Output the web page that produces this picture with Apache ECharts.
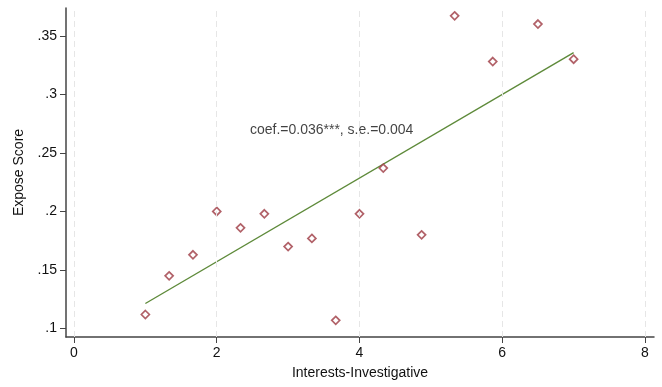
<!DOCTYPE html>
<html>
<head>
<meta charset="utf-8">
<script src="https://cdn.jsdelivr.net/npm/echarts@6/dist/echarts.min.js"></script>
<style>
html,body{margin:0;padding:0;background:#fff;}
#c{width:662px;height:387px;}
</style>
</head>
<body>
<div id="c"></div>
<script>
// Scatter data (Interests-Investigative vs Expose Score)
const xValues = [1.0, 1.333, 1.667, 2.0, 2.333, 2.667, 3.0, 3.333, 3.667, 4.0, 4.333, 4.87, 5.333, 5.867, 6.5, 7.0];
const yValues = [0.112, 0.145, 0.163, 0.200, 0.186, 0.198, 0.170, 0.177, 0.107, 0.198, 0.237, 0.180, 0.367, 0.328, 0.360, 0.330];
// Fitted line endpoints
const fitX = [1.0, 7.0];
const fitY = [0.1214, 0.3356];
// Tick labels
const xTicks = [0, 2, 4, 6, 8];
const yTicks = [0.1, 0.15, 0.2, 0.25, 0.3, 0.35];
const annotation = 'coef.=0.036***, s.e.=0.004';
const annotationPos = [2.465, 0.2695];

const font = 'Liberation Sans, Arial, sans-serif';
const chart = echarts.init(document.getElementById('c'), null, {renderer: 'canvas'});

const scatterData = xValues.map((x, i) => [x, yValues[i]]);
const fitData = fitX.map((x, i) => [x, fitY[i]]);

chart.setOption({
  animation: false,
  backgroundColor: '#ffffff',
  grid: {left: 66, right: 8, top: 8, bottom: 50, containLabel: false},
  xAxis: {
    type: 'value',
    min: -0.112,
    max: 8.126,
    name: 'Interests-Investigative',
    nameLocation: 'middle',
    nameGap: 29,
    nameTextStyle: {fontFamily: font, fontSize: 14, color: '#111'},
    axisLine: {show: true, onZero: false, lineStyle: {color: '#444', width: 1.5}},
    axisTick: {show: true, length: 6, customValues: xTicks, lineStyle: {color: '#444', width: 1}},
    axisLabel: {show: true, customValues: xTicks, margin: 9, fontFamily: font, fontSize: 14, color: '#111',
      formatter: v => String(v)},
    splitLine: {show: false}
  },
  yAxis: {
    type: 'value',
    min: 0.0928,
    max: 0.3737,
    name: 'Expose Score',
    nameLocation: 'middle',
    nameGap: 38,
    nameTextStyle: {fontFamily: font, fontSize: 14, color: '#111'},
    axisLine: {show: true, onZero: false, lineStyle: {color: '#444', width: 1.5}},
    axisTick: {show: true, length: 6, customValues: yTicks, lineStyle: {color: '#444', width: 1}},
    axisLabel: {show: true, customValues: yTicks, margin: 9, fontFamily: font, fontSize: 14, color: '#111',
      formatter: v => {
        let s = (Math.round(v * 100) / 100).toString();
        return s.replace(/^0\./, '.');
      }},
    splitLine: {show: false}
  },
  series: [
    {
      type: 'scatter',
      data: scatterData,
      symbol: 'diamond',
      symbolSize: 8,
      itemStyle: {color: '#ffffff', borderColor: '#9e3a42', borderWidth: 1.7},
      z: 3,
      markLine: {
        silent: true,
        symbol: ['none', 'none'],
        label: {show: false},
        lineStyle: {color: '#e6e6e6', type: [6, 4], width: 1},
        data: xTicks.map(v => ({xAxis: v}))
      }
    },
    {
      type: 'line',
      data: fitData,
      showSymbol: false,
      symbol: 'none',
      lineStyle: {color: '#5e8a3a', width: 1.4},
      z: 2
    },
    {
      type: 'scatter',
      data: [annotationPos],
      symbolSize: 0,
      label: {
        show: true,
        position: 'inside',
        align: 'left',
        verticalAlign: 'middle',
        formatter: annotation,
        fontFamily: font,
        fontSize: 14,
        color: '#111'
      },
      z: 4
    }
  ]
});
</script>
</body>
</html>
